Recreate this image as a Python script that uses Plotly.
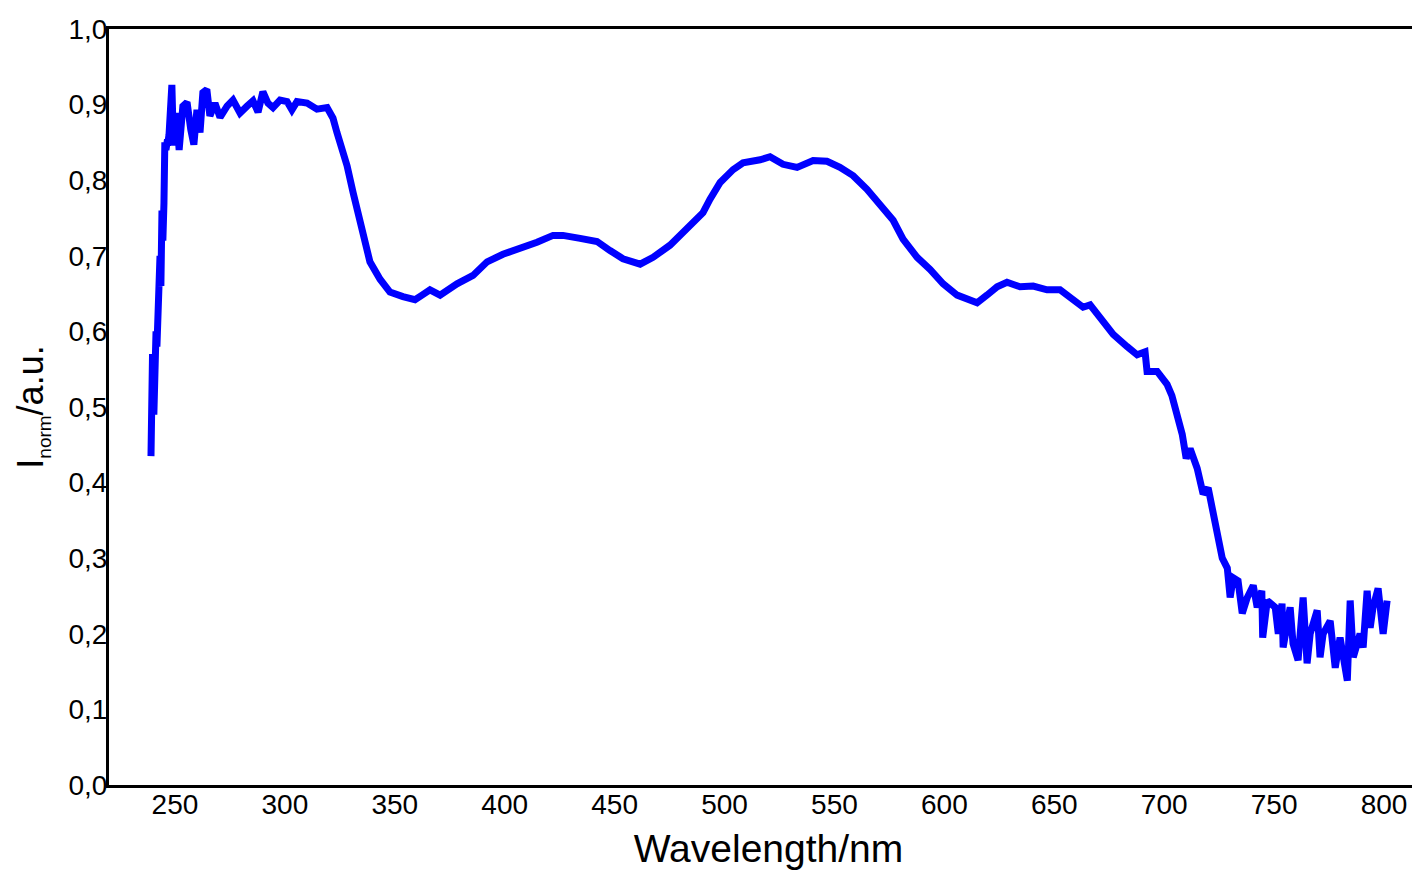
import plotly.graph_objects as go

# Wavelength (nm) and normalized intensity
wavelength = [
    239.1, 239.3, 239.5, 239.8, 240.0, 240.4, 240.9, 241.4, 241.8, 242.3, 242.7, 243.2,
    243.6, 244.1, 244.5, 245.0, 245.4, 245.9, 246.4, 246.8, 247.3, 247.7, 248.2, 248.6,
    249.1, 249.6, 250.8, 251.9, 253.6, 255.5, 257.2, 258.6, 260.0, 261.4, 262.7, 264.5,
    265.9, 268.2, 270.5, 273.7, 276.4, 279.6, 282.8, 285.5, 287.8, 290.0, 292.3, 294.6,
    297.8, 301.0, 303.2, 305.5, 310.1, 314.6, 319.2, 321.9, 323.7, 328.3, 331.0, 334.2,
    338.7, 343.3, 347.8, 353.7, 359.2, 362.4, 366.0, 370.6, 378.3, 385.6, 392.0, 399.2,
    407.0, 414.7, 422.0, 426.5, 434.3, 442.0, 447.9, 453.8, 461.6, 467.5, 475.2, 482.9,
    490.2, 493.4, 498.0, 503.9, 508.4, 516.2, 520.7, 526.6, 533.0, 540.3, 546.6, 552.5,
    558.5, 564.8, 570.7, 576.7, 581.2, 587.6, 593.5, 599.4, 605.8, 610.3, 614.9, 619.4,
    624.0, 628.5, 634.4, 640.4, 646.7, 652.6, 657.2, 663.1, 666.3, 670.8, 676.8, 683.1,
    687.7, 691.3, 692.2, 696.8, 701.3, 703.5, 706.2, 708.2, 710.0, 711.8, 715.0, 717.7,
    720.0, 721.8, 724.1, 726.4, 728.7, 730.0, 731.4, 733.6, 735.5, 737.8, 740.5, 742.3,
    744.4, 744.8, 746.9, 750.5, 751.9, 753.6, 754.1, 757.3, 758.6, 760.9, 763.2, 765.0,
    766.4, 769.6, 770.9, 772.3, 775.5, 776.8, 777.8, 780.0, 783.3, 784.6, 786.0, 789.1,
    790.5, 792.3, 793.7, 795.0, 797.3, 799.6, 801.4,
]
intensity = [
    0.435, 0.500, 0.480, 0.570, 0.550, 0.490, 0.580, 0.600, 0.580, 0.630, 0.620, 0.700,
    0.660, 0.760, 0.720, 0.770, 0.850, 0.840, 0.850, 0.850, 0.860, 0.880, 0.900, 0.926,
    0.870, 0.846, 0.889, 0.840, 0.898, 0.903, 0.867, 0.847, 0.893, 0.863, 0.916, 0.920,
    0.885, 0.902, 0.883, 0.898, 0.906, 0.889, 0.898, 0.905, 0.890, 0.917, 0.902, 0.896,
    0.906, 0.904, 0.893, 0.904, 0.902, 0.894, 0.896, 0.882, 0.863, 0.819, 0.784, 0.744,
    0.692, 0.669, 0.652, 0.646, 0.642, 0.648, 0.655, 0.648, 0.663, 0.674, 0.692, 0.702,
    0.709, 0.718, 0.727, 0.727, 0.723, 0.719, 0.707, 0.696, 0.689, 0.698, 0.714, 0.735,
    0.757, 0.775, 0.797, 0.814, 0.823, 0.827, 0.831, 0.821, 0.817, 0.826, 0.825, 0.817,
    0.806, 0.788, 0.768, 0.747, 0.722, 0.698, 0.682, 0.663, 0.648, 0.642, 0.638, 0.648,
    0.659, 0.665, 0.659, 0.660, 0.655, 0.655, 0.646, 0.632, 0.635, 0.617, 0.596, 0.580,
    0.569, 0.573, 0.547, 0.547, 0.530, 0.515, 0.487, 0.464, 0.432, 0.445, 0.419, 0.385,
    0.393, 0.366, 0.327, 0.300, 0.287, 0.248, 0.274, 0.270, 0.227, 0.248, 0.264, 0.235,
    0.257, 0.195, 0.244, 0.235, 0.200, 0.240, 0.182, 0.235, 0.187, 0.165, 0.248, 0.161,
    0.200, 0.231, 0.169, 0.200, 0.217, 0.187, 0.155, 0.195, 0.138, 0.244, 0.169, 0.200,
    0.182, 0.257, 0.208, 0.235, 0.260, 0.200, 0.244,
]

x_ticks = [250, 300, 350, 400, 450, 500, 550, 600, 650, 700, 750, 800]
y_ticks = [0.0, 0.1, 0.2, 0.3, 0.4, 0.5, 0.6, 0.7, 0.8, 0.9, 1.0]

fig = go.Figure()
fig.add_trace(go.Scatter(
    x=wavelength, y=intensity, mode="lines",
    line=dict(color="#0000FF", width=7),
    showlegend=False,
))

font_family = "Liberation Sans, Arial, sans-serif"
fig.update_layout(
    width=1420, height=872,
    margin=dict(l=101, r=0, t=21, b=95),
    paper_bgcolor="white", plot_bgcolor="white",
    separators=",.",
    font=dict(family=font_family, color="black"),
    xaxis=dict(
        range=[220, 820],
        tickvals=x_ticks,
        showgrid=False, zeroline=False,
        showline=True, linecolor="black", linewidth=3, mirror=True,
        ticks="",
        ticklabelstandoff=-8,
        tickfont=dict(size=28, color="black"),
        title=dict(text="Wavelength/nm", font=dict(size=39, color="black"), standoff=17),
    ),
    yaxis=dict(
        range=[0, 1.0],
        tickvals=y_ticks,
        tickformat=".1f",
        showgrid=False, zeroline=False,
        showline=True, linecolor="black", linewidth=3, mirror=False,
        ticks="",
        ticklabelstandoff=-7,
        tickfont=dict(size=28, color="black"),
        title=dict(
            text="I<sub><span style='font-size:19px'>norm</span></sub>/a.u.",
            font=dict(size=36, color="black"), standoff=14,
        ),
    ),
)

fig.write_html("out.html")
